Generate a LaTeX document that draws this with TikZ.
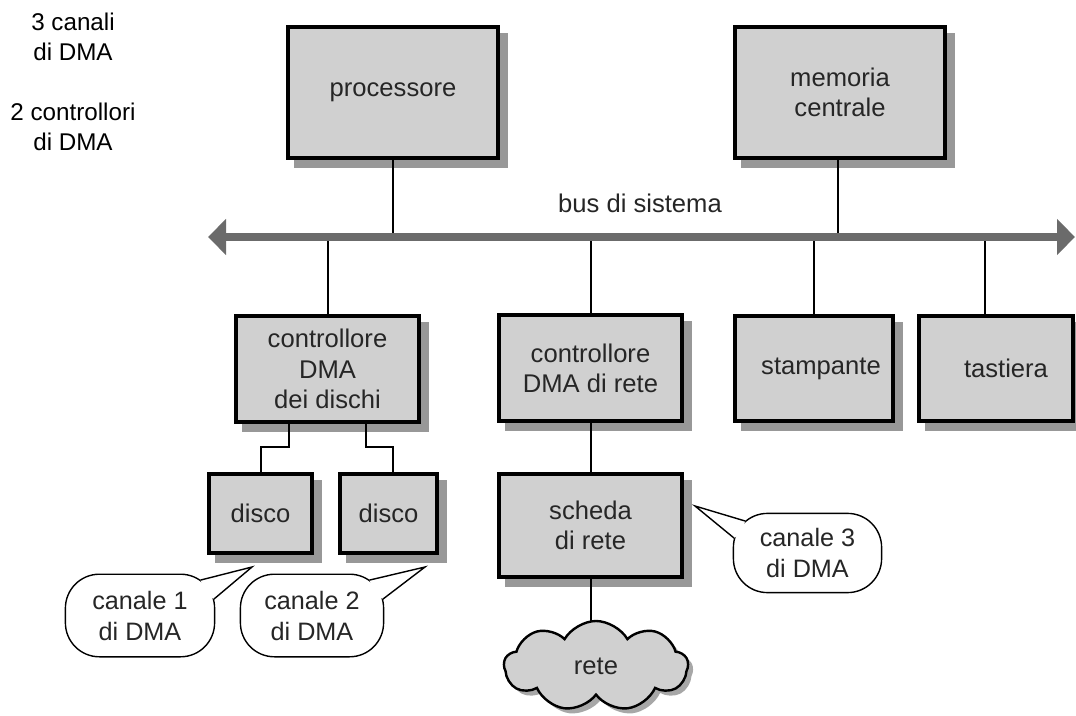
\documentclass[tikz,border=0pt]{standalone}
\usepackage{fontspec}
\setmainfont{Liberation Sans}
\usetikzlibrary{arrows.meta,shapes.symbols}
\definecolor{boxfill}{HTML}{D0D0D0}
\definecolor{shadowgray}{HTML}{989898}
\definecolor{busgray}{HTML}{6B6B6B}
\definecolor{ink}{HTML}{262626}

\begin{document}
\begin{tikzpicture}[x=0.5pt,y=-0.5pt,
  unit/.style={draw=black, line width=2pt, fill=boxfill, text=ink, align=center,
    inner sep=0pt, font=\fontsize{12.8}{15.2}\selectfont},
  unitshadow/.style={fill=shadowgray, inner sep=0pt},
  wire/.style={line width=1pt, draw=black},
  sysbus/.style={line width=4pt, draw=busgray,
    {Triangle[length=9pt,width=17.5pt]}-{Triangle[length=9pt,width=17.5pt]}},
  bubble/.style={draw=black, line width=0.7pt, fill=white, rounded corners=17pt,
    text=ink, align=center, inner sep=0pt, font=\fontsize{12.6}{15.5}\selectfont},
  tail/.style={draw=black, line width=0.7pt, line join=miter},
  note/.style={align=center, text=black, font=\fontsize{12.1}{15}\selectfont},
  cloudshape/.style={cloud, cloud puffs=9, cloud puff arc=120, aspect=2,
    inner sep=0pt, minimum width=92pt, minimum height=45pt},
  netcloud/.style={cloudshape, draw=black, line width=1.2pt, fill=boxfill, text=ink,
    font=\fontsize{12.8}{15}\selectfont}
]
\useasboundingbox (0,0) rectangle (1076,716);

% side notes
\node[note] (n1) at (73,37) {3 canali\\di DMA};
\node[note] (n2) at (73,127) {2 controllori\\di DMA};

% system bus end points and label
\coordinate (busL) at (208,237);
\coordinate (busR) at (1075,237);
\node[text=ink, font=\fontsize{12.8}{15}\selectfont] (buslabel) at (640,203) {bus di sistema};

% units: a solid offset shadow first, then the framed box on top
% name / centre x / centre y / width (pt) / height (pt) / text
\foreach \nm/\cx/\cy/\w/\h/\txt in {
    cpu/393/92.5/105/65.5/{processore},
    mem/840/92.5/105/65.5/{memoria\\centrale},
    dmad/327.5/369/91.5/53/{controllore\\DMA\\dei dischi},
    dmar/590.5/368.5/91.5/53/{controllore\\DMA di rete},
    prn/814/368.5/79/52.5/{\hspace*{7pt}stampante},
    kbd/996/368.5/77/52.5/{\hspace*{10pt}tastiera},
    disk1/260.5/513.5/51.5/39.5/{disco},
    disk2/388.5/513.5/48.5/39.5/{disco},
    nic/590.5/525.5/91.5/51.5/{scheda\\di rete}}
{
  \node[unitshadow, minimum width={\w pt+2pt}, minimum height={\h pt+2pt}]
    (\nm-sh) at (\cx+8,\cy+8) {};
  \node[unit, minimum width=\w pt, minimum height=\h pt] (\nm) at (\cx,\cy) {\txt};
}

% connections to the bus
\draw[wire] (cpu.south) -- (cpu.south |- busL);
\draw[wire] ([xshift=-1pt]mem.south) -- ([xshift=-1pt]mem.south |- busL);
\draw[wire] (dmad.north) -- (dmad.north |- busL);
\draw[wire] (dmar.north) -- (dmar.north |- busL);
\draw[wire] (prn.north) -- (prn.north |- busL);
\draw[wire] ([xshift=-5.5pt]kbd.north) -- ([xshift=-5.5pt]kbd.north |- busL);
\draw[sysbus] (busL) -- (busR);

% disks and network
\draw[wire] ([xshift=-19.25pt]dmad.south) -- ++(0,23) -| (disk1.north);
\draw[wire] ([xshift=19.25pt]dmad.south) -- ++(0,23) -| ([xshift=2pt]disk2.north);
\draw[wire] (dmar.south) -- (nic.north);
\draw[wire] (nic.south) -- (nic.south |- 0,640);
\node[cloudshape, fill=shadowgray!85] (net-sh) at (601,671) {};
\node[netcloud] (net) at (596,666) {rete};

% callouts
\coordinate (tip1) at (252,567);
\coordinate (tip2) at (425,567);
\coordinate (tip3) at (695,506);

\node[bubble, minimum width=74.6pt, minimum height=41.3pt] (ch1) at (140,615.5) {canale 1\\di DMA};
\fill[white] (200.5,580.1) -- (tip1) -- (213.8,599.2) -- (204.7,591.4) -- cycle;
\draw[tail] (200.5,580.1) -- (tip1) -- (213.8,599.2);

\node[bubble, minimum width=71.6pt, minimum height=41.3pt] (ch2) at (312,615.5) {canale 2\\di DMA};
\fill[white] (369.5,580.1) -- (tip2) -- (382.8,599.2) -- (373.7,591.4) -- cycle;
\draw[tail] (369.5,580.1) -- (tip2) -- (382.8,599.2);

\node[bubble, minimum width=74.1pt, minimum height=39.6pt] (ch3) at (807.5,553) {canale 3\\di DMA};
\fill[white] (745.1,521) -- (tip3) -- (734.2,538.2) -- (742.2,531.2) -- cycle;
\draw[tail] (745.1,521) -- (tip3) -- (734.2,538.2);
\end{tikzpicture}
\end{document}
